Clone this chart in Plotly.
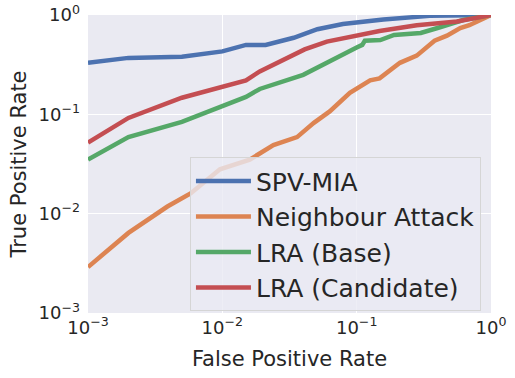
import plotly.graph_objects as go

# ROC curves (log-log)
spv_fpr = [0.001, 0.002, 0.005, 0.01, 0.015, 0.021, 0.034, 0.051, 0.079, 0.158, 0.35, 1.0]
spv_tpr = [0.33, 0.37, 0.38, 0.43, 0.50, 0.50, 0.59, 0.72, 0.81, 0.90, 0.98, 1.0]

nb_fpr = [0.001, 0.002, 0.0039, 0.0058, 0.0096, 0.016, 0.024, 0.036, 0.048, 0.063,
          0.089, 0.126, 0.148, 0.21, 0.28, 0.38, 0.47, 0.59, 0.69, 0.83, 1.0]
nb_tpr = [0.0029, 0.0064, 0.0118, 0.016, 0.028, 0.035, 0.049, 0.059, 0.082, 0.107,
          0.165, 0.22, 0.23, 0.33, 0.39, 0.55, 0.62, 0.74, 0.79, 0.89, 1.0]

base_fpr = [0.001, 0.002, 0.005, 0.01, 0.015, 0.019, 0.04, 0.1, 0.11, 0.115,
            0.15, 0.19, 0.30, 0.40, 0.62, 1.0]
base_tpr = [0.035, 0.059, 0.084, 0.12, 0.15, 0.18, 0.25, 0.47, 0.50, 0.55,
            0.56, 0.63, 0.66, 0.74, 0.89, 1.0]

cand_fpr = [0.001, 0.002, 0.005, 0.01, 0.015, 0.019, 0.026, 0.041, 0.060, 0.089,
            0.126, 0.148, 0.28, 0.56, 1.0]
cand_tpr = [0.052, 0.092, 0.147, 0.19, 0.22, 0.27, 0.33, 0.45, 0.54, 0.60,
            0.67, 0.69, 0.79, 0.86, 1.0]

tick_vals = [0.001, 0.01, 0.1, 1]
tick_text = ["10<sup>−3</sup>", "10<sup>−2</sup>", "10<sup>−1</sup>", "10<sup>0</sup>"]

series = [
    ("SPV-MIA", spv_fpr, spv_tpr, "#4C72B0"),
    ("Neighbour Attack", nb_fpr, nb_tpr, "#DD8452"),
    ("LRA (Base)", base_fpr, base_tpr, "#55A868"),
    ("LRA (Candidate)", cand_fpr, cand_tpr, "#C44E52"),
]

fig = go.Figure()
for name, x, y, c in series:
    fig.add_trace(go.Scatter(x=x, y=y, mode="lines", name=name,
                             line=dict(color=c, width=4.5)))

axis_common = dict(type="log", tickvals=tick_vals, ticktext=tick_text,
                   showgrid=True, gridcolor="white", gridwidth=1.2,
                   zeroline=False, showline=False, ticks="", automargin=False,
                   tickfont=dict(size=18, color="#262626"),
                   title_font=dict(size=21, color="#262626"))

fig.update_xaxes(**axis_common, range=[-3, 0], title_text="False Positive Rate",
                 title_standoff=14, ticklabelstandoff=2)
fig.update_yaxes(**axis_common, range=[-3, 0], title_text="True Positive Rate",
                 title_standoff=6, ticklabelstandoff=7)

fig.update_layout(
    width=515, height=378,
    margin=dict(l=88, r=24, t=15, b=65),
    paper_bgcolor="white", plot_bgcolor="#EAEAF2",
    font=dict(family="DejaVu Sans", color="#262626"),
    legend=dict(x=0.253, y=0.523, xanchor="left", yanchor="top",
                bgcolor="rgba(234,234,242,0.8)", bordercolor="#D5D5D5",
                borderwidth=1, font=dict(size=25, color="#262626"),
                itemwidth=55),
)

fig.write_html("out.html", config={"displayModeBar": False},
               post_script="document.body.style.margin='0';")
